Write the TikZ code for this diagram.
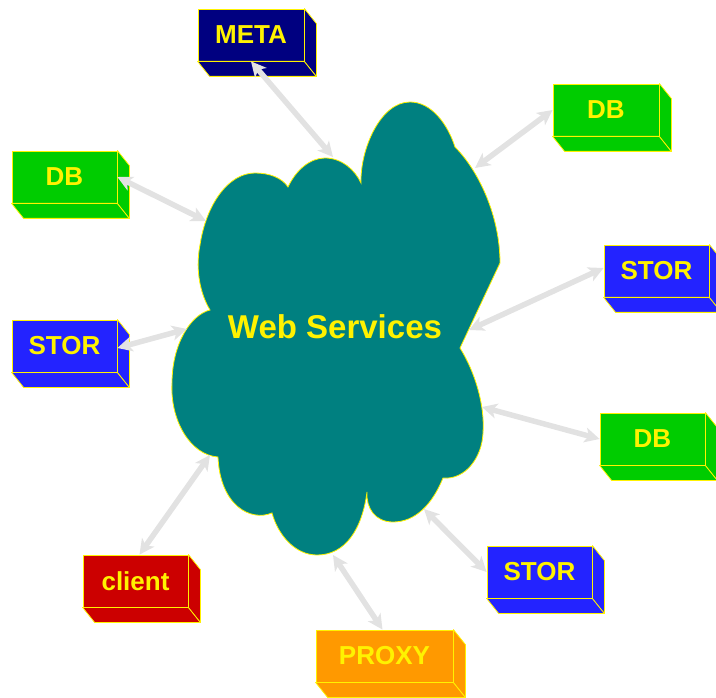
\documentclass[tikz,border=0pt]{standalone}
\usepackage{fontspec}
\setmainfont{Liberation Sans}
\usetikzlibrary{arrows.meta}
\definecolor{cloudteal}{RGB}{0,128,128}
\definecolor{navyc}{RGB}{0,0,128}
\definecolor{greenc}{RGB}{0,204,0}
\definecolor{bluec}{RGB}{35,35,255}
\definecolor{redc}{RGB}{204,0,0}
\definecolor{orangec}{RGB}{255,153,0}
\definecolor{linkgray}{RGB}{226,226,226}
\tikzset{
  solidbox/.style={draw=yellow, line width=0.8pt, inner sep=0pt, minimum height=52pt,
    text=yellow, font=\fontsize{26}{26}\selectfont\bfseries},
  sideface/.style={draw=yellow, line width=0.8pt, line join=round},
  link/.style={draw=linkgray, line width=5.5pt,
    {Stealth[length=15pt,width=15pt,inset=4pt]}-{Stealth[length=15pt,width=15pt,inset=4pt]}},
}
\newcommand\threedbox[5]{%
  \node[solidbox, fill=#3, minimum width=#5] (#1) at #2 {#4};
  \filldraw[sideface, fill=#3] (#1.south west) -- (#1.south east) -- ++(12,15)
     -- ([shift={(12,15)}]#1.south west) -- cycle;
  \filldraw[sideface, fill=#3] (#1.north east) -- ++(12,15)
     -- ([shift={(12,15)}]#1.south east) -- (#1.south east) -- cycle;
}
\begin{document}
\begin{tikzpicture}[x=1pt,y=-1pt]
\useasboundingbox (0,0) rectangle (716,698);
% cloud
\filldraw[fill=cloudteal, draw=yellow, line width=0.8pt]
  (210,310) .. controls (198,290) and (196,265) .. (200,245)
  .. controls (206,205) and (228,173) .. (255,173)
  .. controls (270,173) and (282,178) .. (288,187)
  .. controls (296,170) and (310,158) .. (325,158)
  .. controls (342,158) and (355,170) .. (361,183)
  .. controls (360,150) and (380,102) .. (410,102)
  .. controls (432,102) and (448,125) .. (455,147)
  .. controls (478,170) and (500,215) .. (500,263)
  -- (460,348)
  .. controls (475,372) and (485,405) .. (483,433)
  .. controls (482,458) and (465,480) .. (443,478)
  .. controls (432,505) and (415,522) .. (393,522)
  .. controls (375,522) and (366,508) .. (367,492)
  .. controls (362,530) and (345,555) .. (317,555)
  .. controls (295,555) and (278,535) .. (272,513)
  .. controls (250,522) and (220,505) .. (218,457)
  .. controls (190,455) and (170,420) .. (172,383)
  .. controls (172,345) and (190,315) .. (210,310) -- cycle;
\node[text=yellow, font=\fontsize{33}{33}\selectfont\bfseries] (ws) at (335,327) {Web Services};
% cloud end points
\coordinate (cMeta) at (333,157);
\coordinate (cDbtr) at (475,168);
\coordinate (cStorr) at (469,330);
\coordinate (cDbl) at (206,221);
\coordinate (cStorl) at (187,329);
\coordinate (cDblr) at (482,407);
\coordinate (cStorb) at (424,509);
\coordinate (cClient) at (210,455);
\coordinate (cProxy) at (333,555);
% boxes
\threedbox{meta}{(251,35)}{navyc}{META}{106pt}
\threedbox{dbtr}{(606,110)}{greenc}{DB}{106pt}
\threedbox{dbl}{(64.5,177)}{greenc}{DB}{105pt}
\threedbox{storr}{(656.5,271)}{bluec}{STOR}{105pt}
\threedbox{storl}{(64.5,346)}{bluec}{STOR}{105pt}
\threedbox{dblr}{(652.5,439)}{greenc}{DB}{105pt}
\threedbox{storb}{(539.5,572)}{bluec}{STOR}{105pt}
\threedbox{client}{(135.5,581)}{redc}{client}{105pt}
\threedbox{proxy}{(384.5,656)}{orangec}{PROXY}{137pt}
% links
\draw[link] (meta.south) -- (cMeta);
\draw[link] (dbtr.west) -- (cDbtr);
\draw[link] ([yshift=3pt]storr.west) -- (cStorr);
\draw[link] (dbl.east) -- (cDbl);
\draw[link] ([yshift=-2pt]storl.east) -- (cStorl);
\draw[link] (dblr.west) -- (cDblr);
\draw[link] (storb.west) -- (cStorb);
\draw[link] ([xshift=4pt]client.north) -- (cClient);
\draw[link] ([xshift=-2pt]proxy.north) -- (cProxy);
\end{tikzpicture}
\end{document}
